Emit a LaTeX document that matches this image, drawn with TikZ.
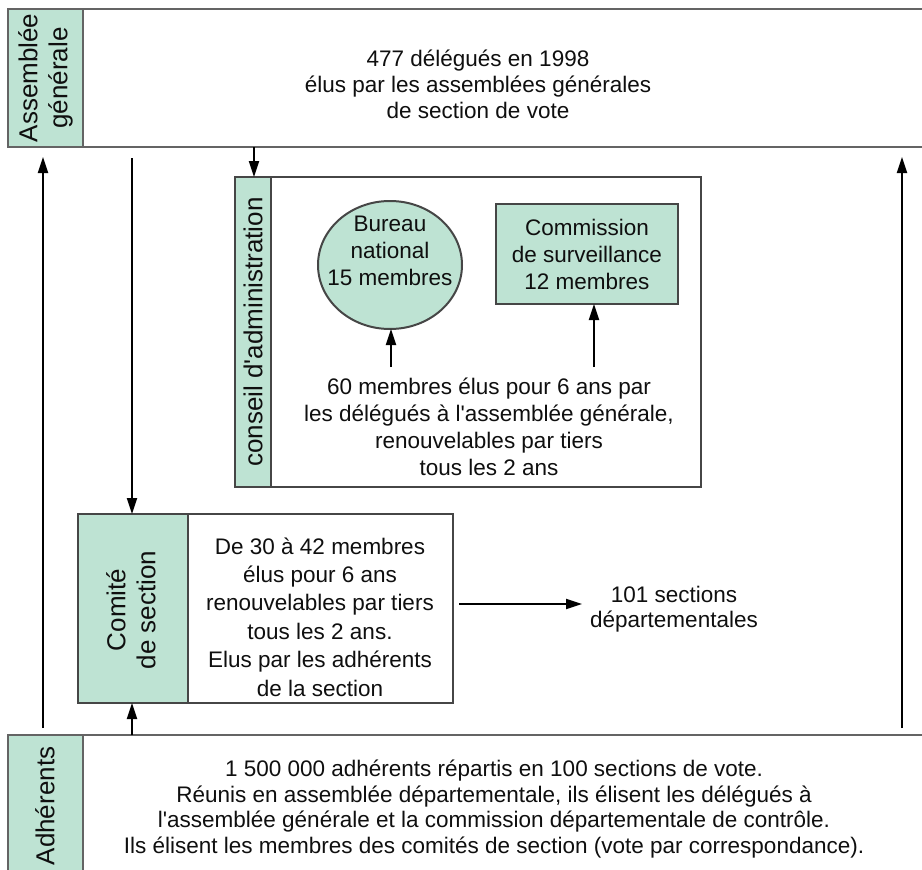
\documentclass[tikz,border=0pt]{standalone}
\usepackage{fontspec}
\setmainfont{Liberation Sans}
\usetikzlibrary{arrows.meta,shapes.geometric}
\definecolor{mint}{RGB}{190,227,211}
\definecolor{edge}{RGB}{70,70,70}
\definecolor{bandedge}{RGB}{100,100,100}
\definecolor{ink}{RGB}{15,15,15}
\newcommand{\apos}{\textquotesingle}

\begin{document}
\begin{tikzpicture}[x=1pt,y=-1pt,
  every node/.style={inner sep=0pt, outer sep=0pt, text=ink},
  body/.style={font=\fontsize{22.5}{27}\selectfont, align=center},
  bodytop/.style={font=\fontsize{22.5}{26}\selectfont, align=center},
  lab/.style={font=\fontsize{26}{30}\selectfont, align=center, rotate=90},
  frame/.style={draw=edge, line width=2pt, rectangle, anchor=north west},
  band/.style={draw=bandedge, line width=2.6pt, rectangle, anchor=north west},
  tint/.style={fill=mint},
  arr/.style={draw=black, line width=1.8pt, -{Triangle[length=16pt,width=10pt]}},
]
\useasboundingbox (0,0) rectangle (922,870);
\fill[white] (0,0) rectangle (922,870);
\clip (0,0) rectangle (922,870);

% ---- Assemblée générale (top band, open to the right)
\node[band, minimum width=940pt, minimum height=138pt] (agbox) at (8,9) {};
\node[band, tint, minimum width=75pt, minimum height=138pt] (agtag) at (8,9) {};
\node[lab] (aglab) at (agtag.center) {Assemblée\\générale};
\node[bodytop] (agtext) at (478,84) {477 délégués en 1998\\élus par les assemblées générales\\de section de vote};

% ---- Adhérents (bottom band, open to the right and below)
\node[band, minimum width=940pt, minimum height=160pt] (adbox) at (8,735) {};
\node[band, tint, minimum width=75pt, minimum height=160pt] (adtag) at (8,735) {};
\node[lab] (adlab) at (45,806) {Adhérents};
\node[body, font=\fontsize{22.5}{25.5}\selectfont] (adtext) at (494,809) {1 500 000 adhérents répartis en 100 sections de vote.\\Réunis en assemblée départementale, ils élisent les délégués à\\l\apos assemblée générale et la commission départementale de contrôle.\\Ils élisent les membres des comités de section (vote par correspondance).};

% ---- Conseil d'administration
\node[frame, fill=white, minimum width=466pt, minimum height=310pt] (cabox) at (235,177) {};
\node[frame, tint, minimum width=36pt, minimum height=310pt] (catag) at (235,177) {};
\node[lab] (calab) at (catag.center) {conseil d\apos administration};
\node[ellipse, draw=edge, line width=2pt, tint, minimum width=144pt, minimum height=128pt] (bureau) at (390,265) {};
\node[body] (bureautext) at (390,251) {Bureau\\national\\15 membres};
\node[frame, tint, minimum width=182pt, minimum height=100pt] (comm) at (496,204) {};
\node[body] (commtext) at (comm.center) {Commission\\de surveillance\\12 membres};
\node[body] (catext) at (489,427) {60 membres élus pour 6 ans par\\les délégués à l\apos assemblée générale,\\renouvelables par tiers\\tous les 2 ans};

% ---- Comité de section
\node[frame, fill=white, minimum width=375pt, minimum height=189pt] (csbox) at (78,514) {};
\node[frame, tint, minimum width=110pt, minimum height=189pt] (cstag) at (78,514) {};
\node[lab] (cslab) at (131,610) {Comité\\de section};
\node[body, font=\fontsize{22.5}{28.4}\selectfont] (cstext) at (320,617) {De 30 à 42 membres\\élus pour 6 ans\\renouvelables par tiers\\tous les 2 ans.\\Elus par les adhérents\\de la section};
\node[body, font=\fontsize{22.5}{25}\selectfont] (sections) at (674,609) {101 sections\\départementales};

% ---- connectors
\coordinate (leftlow) at (43,728);
\coordinate (lefthigh) at (43,157);
\coordinate (rightlow) at (902,728);
\coordinate (righthigh) at (902,157);
\coordinate (midtop) at (132,158);
\coordinate (xca) at (254,0);
\coordinate (xcs) at (132,0);
\coordinate (xbu) at (391,0);
\coordinate (xco) at (594,0);
\coordinate (rowfoot) at (0,367);
\coordinate (secstart) at (459,604);
\coordinate (secend) at (582,604);

\draw[arr] (leftlow) -- (lefthigh);
\draw[arr] (rightlow) -- (righthigh);
\draw[arr] (midtop) -- (csbox.north -| xcs);
\draw[arr] (adbox.north -| xcs) -- (csbox.south -| xcs);
\draw[arr] (agbox.south -| xca) -- (cabox.north -| xca);
\draw[arr] (rowfoot -| xbu) -- (bureau.south -| xbu);
\draw[arr] (rowfoot -| xco) -- (comm.south -| xco);
\draw[arr] (secstart) -- (secend);
\end{tikzpicture}
\end{document}
